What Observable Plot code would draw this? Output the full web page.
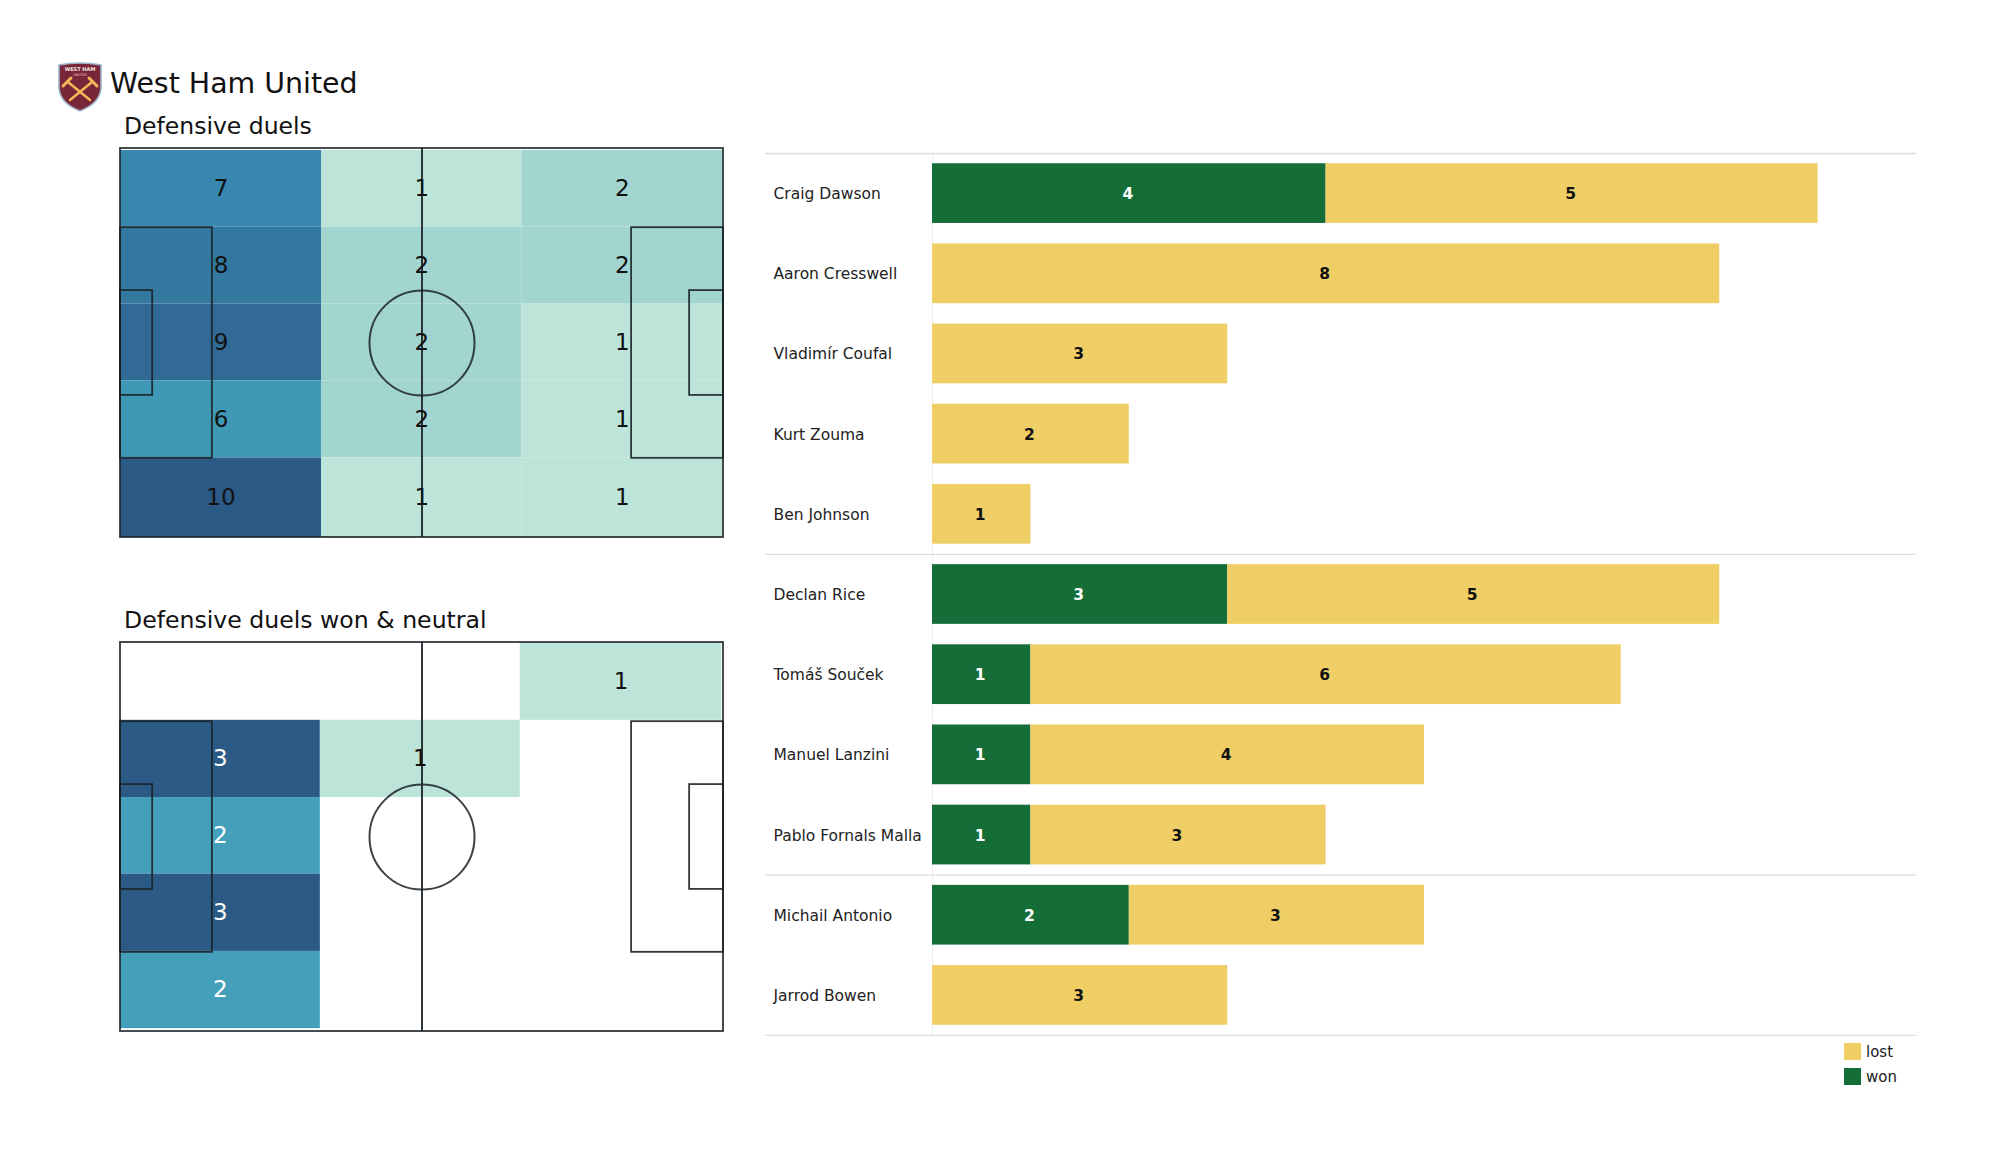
<!DOCTYPE html>
<html><head><meta charset="utf-8">
<script src="https://cdn.jsdelivr.net/npm/d3@7"></script>
<script src="https://cdn.jsdelivr.net/npm/@observablehq/plot@0.6"></script>
<style>
html,body{margin:0;padding:0;background:#fff;}
body{width:2000px;height:1175px;position:relative;overflow:hidden;font-family:"DejaVu Sans",sans-serif;color:#111;}
.abs{position:absolute;}
.ttl{position:absolute;white-space:nowrap;line-height:1;}
</style></head><body>
<script>
// Heat-map counts, rows top to bottom, columns left to right
const duelCounts = [[7,1,2],[8,2,2],[9,2,1],[6,2,1],[10,1,1]];
const wonCounts = [[0,0,1],[3,1,0],[2,0,0],[3,0,0],[2,0,0]];
const duelLevels = [1,2,6,7,8,9,10];
const duelColors = ["#bce4d9","#a2d4d0","#3f98b6","#3887af","#33799f","#306a95","#2b5a87"];
const wonLevels = [1,2,3];
const wonColors = ["#bce4d9","#449fba","#2b5a87"];
const wonTextWhite = [2,3];
const duelColEdges = [0,35,69.9,104.9];
const duelRowEdges = [0.35,13.7,27.2,40.6,54.1,68];
const wonColEdges = [0,34.8,69.6,104.7];
const wonRowEdges = [0.17,13.6,27.1,40.5,54,67.5];

// Pitch furniture in metres
const pitchLength = 105, pitchWidth = 68;
const pitchBoxes = [
  {x1:0,x2:105,y1:0,y2:68},
  {x1:0,x2:16,y1:13.84,y2:54.16},
  {x1:0,x2:5.6,y1:24.84,y2:43.16},
  {x1:89,x2:105,y1:13.84,y2:54.16},
  {x1:99.1,x2:105,y1:24.84,y2:43.16}
];

// Player bars
const players = ["Craig Dawson","Aaron Cresswell","Vladimír Coufal","Kurt Zouma","Ben Johnson","Declan Rice","Tomáš Souček","Manuel Lanzini","Pablo Fornals Malla","Michail Antonio","Jarrod Bowen"];
const won  = [4,0,0,0,0,3,1,1,1,2,0];
const lost = [5,8,3,2,1,5,6,4,3,3,3];
const outcomes = ["lost","won"];
const outcomeColors = ["#f0ce66","#156d38"];
const groupStarts = ["Craig Dawson","Declan Rice","Michail Antonio"];

function place(node,left,top){node.classList.add("abs");node.style.position="absolute";node.style.left=left+"px";node.style.top=top+"px";node.style.maxWidth="none";document.body.appendChild(node);return node;}
function title(text,left,top,size){const d=document.createElement("div");d.className="ttl";d.textContent=text;d.style.left=left+"px";d.style.top=top+"px";d.style.fontSize=size+"px";document.body.appendChild(d);}

function pitch(counts,levels,colors,whiteText,colEdges,rowEdges){
  const cells=[];
  counts.forEach((row,r)=>row.forEach((v,c)=>{ if(v>0) cells.push({x1:colEdges[c],x2:colEdges[c+1],y1:rowEdges[r],y2:rowEdges[r+1],value:v}); }));
  return Plot.plot({
    width:611,height:397,marginTop:4,marginBottom:4,marginLeft:4,marginRight:4,
    x:{domain:[0,pitchLength],axis:null},
    y:{domain:[0,pitchWidth],axis:null,reverse:true},
    color:{type:"ordinal",domain:levels,range:colors},
    style:{background:"transparent",fontFamily:"'DejaVu Sans',sans-serif"},
    marks:[
      Plot.rect(cells,{x1:"x1",x2:"x2",y1:"y1",y2:"y2",fill:"value"}),
      Plot.rect(pitchBoxes,{x1:"x1",x2:"x2",y1:"y1",y2:"y2",fill:"none",stroke:"#1c2228",strokeOpacity:.9,strokeWidth:1.8}),
      Plot.ruleX([pitchLength/2],{y1:0,y2:pitchWidth,stroke:"#1c2228",strokeWidth:1.8}),
      Plot.dot([{x:pitchLength/2,y:pitchWidth/2}],{x:"x",y:"y",r:52.5,fill:"none",stroke:"#1c2228",strokeOpacity:.85,strokeWidth:2}),
      Plot.text(cells,{x:d=>(d.x1+d.x2)/2,y:d=>(d.y1+d.y2)/2,text:"value",fontSize:23,
        fill:d=>whiteText.includes(d.value)?"#ffffff":"#111111"})
    ]
  });
}

title("West Ham United",110,70,28.4);
title("Defensive duels",124,114.5,23.5);
title("Defensive duels won & neutral",124,608.5,23.6);

place(pitch(duelCounts,duelLevels,duelColors,[],duelColEdges,duelRowEdges),116,144);
place(pitch(wonCounts,wonLevels,wonColors,wonTextWhite,wonColEdges,wonRowEdges),116,638);

const rows=[];
players.forEach((p,i)=>{
  rows.push({name:p,outcome:"won",value:won[i],rank:0});
  rows.push({name:p,outcome:"lost",value:lost[i],rank:1});
});
const shown=rows.filter(d=>d.value>0);
const stack={x:"value",y:"name",order:"rank",reverse:false};
const bars=Plot.plot({
  width:1151,height:884,marginTop:1,marginBottom:1,marginLeft:167,marginRight:0,
  x:{domain:[0,10],axis:null},
  y:{domain:players,paddingInner:.255,paddingOuter:.1275,round:false,label:null},
  color:{domain:outcomes,range:outcomeColors},
  style:{background:"transparent",fontFamily:"'DejaVu Sans',sans-serif"},
  marks:[
    Plot.ruleX([0],{stroke:"#eeeeee",strokeWidth:1}),
    Plot.ruleY(groupStarts,{x1:-1.7,x2:10,dy:-40.1,stroke:"#dddddd",strokeWidth:1.4}),
    Plot.ruleY(["Jarrod Bowen"],{x1:-1.7,x2:10,dy:40.1,stroke:"#dddddd",strokeWidth:1.4}),
    Plot.barX(shown,Plot.stackX({...stack,fill:"outcome"})),
    Plot.text(shown,Plot.stackX({...stack,text:"value",fontSize:15.5,fontWeight:"bold",dx:-1.5,dy:0.5,
      fill:d=>d.outcome==="won"?"#ffffff":"#111111"})),
    Plot.axisY({anchor:"left",tickSize:0,tickPadding:158.5,textAnchor:"start",fontSize:15.5,dx:-0.5,dy:0.5,label:null,fill:"#222222"})
  ]
});
place(bars,765,151.5);

const legend=bars.legend("color",{columns:1,swatchSize:17,label:null,style:{fontFamily:"'DejaVu Sans',sans-serif",fontSize:"15px",color:"#222"}});
legend.querySelectorAll("*").forEach(e=>{
  const c=e.getAttribute("class")||"";
  if(/swatch$/.test(c)) {e.style.paddingBottom="7px";e.style.margin="0";}
  if(e.tagName.toLowerCase()==="svg") e.style.marginRight="5px";
});
place(legend,1844,1042.5);

// Club crest
const crest=document.createElementNS("http://www.w3.org/2000/svg","svg");
crest.setAttribute("width",46);crest.setAttribute("height",50);crest.setAttribute("viewBox","0 0 46 50");
crest.innerHTML=`<path d="M2 3 Q23 -1 44 3 L44 26 Q43 41 23 49 Q3 41 2 26 Z" fill="#7a263a" stroke="#9db4c9" stroke-width="1.6"/>
<text x="23" y="9" text-anchor="middle" font-size="5" font-weight="bold" fill="#f2efe6" font-family="DejaVu Sans">WEST HAM</text>
<text x="23" y="14" text-anchor="middle" font-size="3.6" fill="#f2d6c0" font-family="DejaVu Sans">UNITED</text>
<g stroke="#f3b955" stroke-width="2.4" stroke-linecap="round"><line x1="11" y1="20" x2="33" y2="38"/><line x1="35" y1="20" x2="13" y2="38"/></g>
<g stroke="#f3b955" stroke-width="3" stroke-linecap="round"><line x1="6" y1="24" x2="14" y2="16"/><line x1="40" y1="24" x2="32" y2="16"/></g>`;
place(crest,57,62);
</script>
</body></html>
